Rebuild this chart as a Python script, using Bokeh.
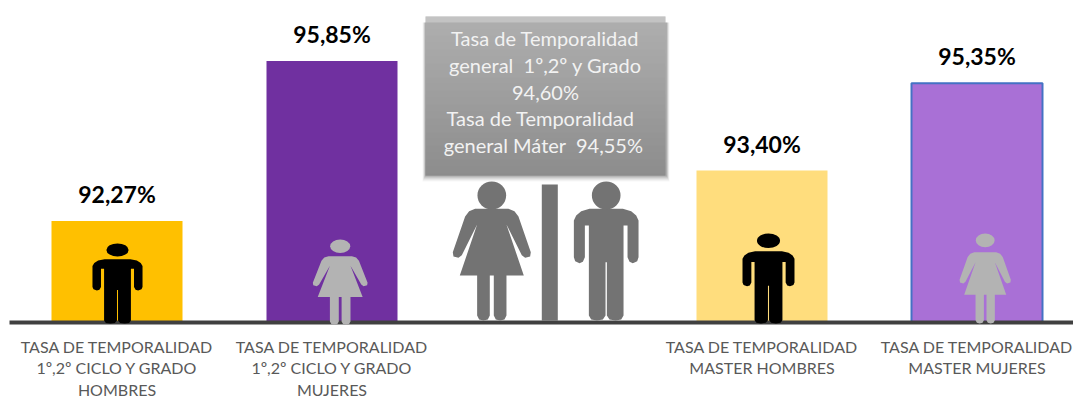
from bokeh.plotting import figure
from bokeh.models import Range1d, FixedTicker, ColumnDataSource
from bokeh.core.properties import value
from bokeh.embed import file_html
from bokeh.resources import INLINE

# ---- data ----
categories = ["TASA DE TEMPORALIDAD\n1º,2º CICLO Y GRADO\nHOMBRES",
              "TASA DE TEMPORALIDAD\n1º,2º CICLO Y GRADO\nMUJERES",
              "",
              "TASA DE TEMPORALIDAD\nMASTER HOMBRES",
              "TASA DE TEMPORALIDAD\nMASTER MUJERES"]
positions = [0, 1, 3, 4]
values = [92.27, 95.85, 93.40, 95.35]
value_labels = ["92,27%", "95,85%", "93,40%", "95,35%"]
colors = ["#ffc000", "#7030a0", "#ffdd7d", "#a970d6"]
edge_colors = ["#ffc000", "#7030a0", "#ffdd7d", "#4472c4"]
edge_widths = [0, 0, 0, 2]
callout_lines = ["Tasa de Temporalidad", "general \u00a01º,2º y Grado", "94,60%",
                 "Tasa de Temporalidad", "general Máter \u00a094,55%"]

# ---- page geometry ----
PAGE = 0
BASE_PX = 322       # page y of the value 90
PX_PER_UNIT = 44.7  # page pixels per percentage point
PX_PER_CAT = 215
CAT0_PX = 116.5
W, H = 1073, 399

def X(px):
    return (px - CAT0_PX) / PX_PER_CAT

def Y(py):
    return 90 + (BASE_PX - py) / PX_PER_UNIT

p = figure(width=W, height=H, output_backend="svg", toolbar_location=None,
           x_range=Range1d(X(PAGE), X(PAGE + W)),
           y_range=Range1d(Y(PAGE + H), Y(PAGE)),
           y_axis_location=None, min_border=0,
           outline_line_color=None, background_fill_color="white")
p.grid.visible = False

ax = p.xaxis[0]
ax.fixed_location = 90
ax.bounds = (X(9), X(1073))
ax.ticker = FixedTicker(ticks=positions)
ax.major_label_overrides = {0: categories[0], 1: categories[1], 3: categories[3], 4: categories[4]}
ax.axis_line_color = "#404040"
ax.axis_line_width = 4
ax.major_tick_line_color = None
ax.minor_tick_line_color = None
ax.major_label_text_color = "#595959"
ax.major_label_text_font = "Lato"
ax.major_label_text_font_size = "16px"
ax.major_label_text_line_height = 1.15
ax.major_label_standoff = 8

# ---- bars ----
src = ColumnDataSource(dict(x=positions, top=values, fill=colors, edge=edge_colors,
                            lw=edge_widths, lab=value_labels))
p.vbar(x="x", top="top", bottom=90, width=131 / PX_PER_CAT, fill_color="fill",
       line_color="edge", line_width="lw", source=src)
p.text(x="x", y="top", text="lab", source=src, text_align="center", text_baseline="middle",
       y_offset=-27, text_font=value("Lato"), text_font_style="bold",
       text_font_size="23px", text_color="black")

# ---- icons ----
MAN = [(0, 335), (50, 335), (75, 328), (90, 315), (97, 300), (97, 190), (93, 178), (80, 172),
       (70, 176), (64, 190), (64, 285), (52, 285), (52, 15), (45, 3), (28, 0), (10, 3), (2, 15),
       (2, 175), (0, 175)]
WOMAN = [(0, 335), (50, 335), (68, 328), (80, 312), (117, 205), (115, 192), (100, 188), (90, 196),
         (44, 288), (96, 135), (44, 135), (44, 15), (38, 3), (25, 0), (12, 3), (6, 15), (6, 135),
         (0, 135)]
ICONS = {"man": MAN, "woman": WOMAN}

def icon(kind, cx, bottom, sx, sy, color, head_h=375, head_ry=42):
    half = ICONS[kind]
    full = half + [(-a, b) for a, b in reversed(half)]
    xs = [X(cx + a * sx) for a, b in full]
    ys = [Y(bottom - b * sy) for a, b in full]
    r1 = p.patch(xs, ys, fill_color=color, line_color=None)
    r2 = p.ellipse([X(cx)], [Y(bottom - head_h * sy)], width=[2 * 43 * sx / PX_PER_CAT],
                   height=[2 * head_ry * sy / PX_PER_UNIT], fill_color=color, line_color=None)
    r1.level = "overlay"
    r2.level = "overlay"

icon("man", 117, 323, 0.258, 0.192, "#000000", 383, 34)
icon("woman", 339.7, 324, 0.234, 0.204, "#b3b3b3", 384, 33)
icon("man", 768, 323, 0.268, 0.216, "#000000", 383, 34)
icon("woman", 984.7, 323, 0.219, 0.213, "#b3b3b3", 390, 32)
icon("woman", 491.3, 320, 1 / 3, 1 / 3, "#737373")
icon("man", 605.7, 320, 1 / 3, 1 / 3, "#737373")
p.quad(left=[X(541.3)], right=[X(557.3)], top=[Y(184)], bottom=[Y(320)],
       fill_color="#737373", line_color=None)

# ---- callout ----
for grow, alpha in [(6, 0.03), (5, 0.04), (4, 0.05), (3, 0.06), (2, 0.08), (1, 0.10)]:
    p.quad(left=[X(425 - grow / 2)], right=[X(665 + grow / 2 + 1)], top=[Y(22)],
           bottom=[Y(175 + grow)], fill_color="black", fill_alpha=alpha, line_color=None)

TOP, BOTTOM = 16, 175
tops, bottoms, fills = [], [], []
for i in range(BOTTOM - TOP):
    t = i / (BOTTOM - TOP - 1)
    g = round(176 + (130 - 176) * t)
    tops.append(Y(TOP + i))
    bottoms.append(Y(TOP + i + 1))
    fills.append(f"#{g:02x}{g:02x}{g:02x}")
p.quad(left=X(425), right=X(665), top=tops, bottom=bottoms, fill_color=fills, line_color=None)

line_px_x = [544.5, 545, 545, 540, 543]
line_px_y = [37, 64, 91, 117, 144]
p.text(x=[X(v) for v in line_px_x], y=[Y(v) for v in line_px_y], text=callout_lines,
       text_align="center", text_baseline="middle", text_font=value("Lato"),
       text_font_size="20px", text_color="#f2f2f2")

open("out.html", "w").write(file_html(p, INLINE))
